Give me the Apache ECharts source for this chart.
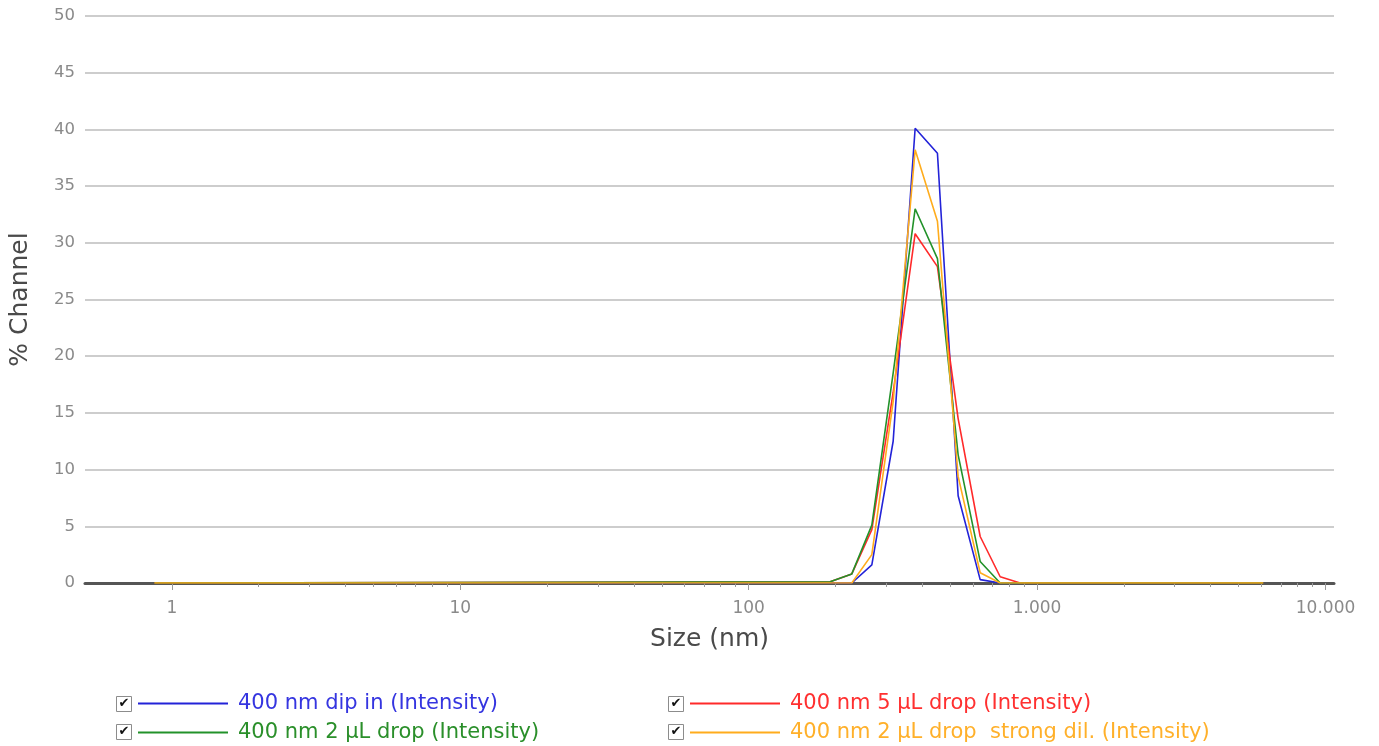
<!DOCTYPE html>
<html>
<head>
<meta charset="utf-8">
<script src="https://cdn.jsdelivr.net/npm/echarts@6/dist/echarts.min.js"></script>
<style>
html,body{margin:0;padding:0;background:#fff;}
#chart{width:1379px;height:746px;}
</style>
</head>
<body>
<div id="chart"></div>
<script>
// ---- data ----
const sizes = [0.87, 191.6, 227.8, 267.3, 316.9, 377.7, 451.3, 532.4, 634.8, 744.7, 873.6, 6085];
const dipIn      = [0, 0,   0,   1.6, 12.5, 40.1, 37.9, 7.7,  0.3, 0,    0, 0];
const drop5uL    = [0, 0.1, 0.8, 4.7, 16.8, 30.8, 27.9, 14.5, 4.1, 0.55, 0, 0];
const drop2uL    = [0, 0.1, 0.8, 5.1, 18.5, 33.0, 28.6, 11.3, 1.9, 0,    0, 0];
const drop2uLDil = [0, 0,   0,   2.5, 16.0, 38.2, 31.9, 9.4,  0.9, 0,    0, 0];
const seriesNames = [
  '400 nm dip in (Intensity)',
  '400 nm 5 µL drop (Intensity)',
  '400 nm 2 µL drop (Intensity)',
  '400 nm 2 µL drop  strong dil. (Intensity)'
];
const majorTicks = [1, 10, 100, 1000, 10000];
const minorTicks = [2,3,4,5,6,7,8,9, 20,30,40,50,60,70,80,90, 200,300,400,500,600,700,800,900, 2000,3000,4000,5000,6000,7000,8000,9000];
const xMin = 0.5, xMax = 10700;

const colors = ['#2323d8', '#ff2a2a', '#22922a', '#ffac1c'];
const textColors = ['#3535e0', '#ff3030', '#2a8f2a', '#ffb02a'];

const pair = vals => sizes.map((s, i) => [s, vals[i]]);
const allVals = [dipIn, drop5uL, drop2uL, drop2uLDil];

const fmt = v => {
  const n = Math.round(Math.pow(10, v));
  return String(n).replace(/\B(?=(\d{3})+(?!\d))/g, '.');
};

const FONT = 'DejaVu Sans';
const chart = echarts.init(document.getElementById('chart'));

function checkbox(x, y) {
  return {
    type: 'group', left: x, top: y,
    children: [
      {type: 'rect', shape: {x: 0, y: 0, width: 15, height: 15}, style: {fill: '#fff', stroke: '#8c8c8c', lineWidth: 1}},
      {type: 'text', x: 7.5, y: 7.5, style: {text: '✔', fill: '#111', font: 'bold 13px ' + FONT, align: 'center', verticalAlign: 'middle'}}
    ]
  };
}

function legendBlock(left, idxs) {
  return {
    left: left, top: 693, orient: 'vertical', padding: 0, itemGap: 8, itemWidth: 90, itemHeight: 2,
    height: 60,
    icon: 'rect', selectedMode: false,
    textStyle: {fontFamily: FONT, fontSize: 21, lineHeight: 20, padding: [0, 0, 0, 5]},
    data: idxs.map(i => ({name: seriesNames[i], textStyle: {color: textColors[i]}}))
  };
}

const option = {
  animation: false,
  backgroundColor: '#fff',
  grid: {left: 85, right: 45, top: 16, bottom: 163, containLabel: false},
  xAxis: [
    {type: 'log', min: xMin, max: xMax, show: false, logBase: 10},
    {
      type: 'value', position: 'bottom',
      min: Math.log10(xMin), max: Math.log10(xMax),
      name: 'Size (nm)', nameLocation: 'middle', nameGap: 44,
      nameTextStyle: {fontFamily: FONT, fontSize: 25, color: '#4a4a4a'},
      axisLine: {show: true, lineStyle: {color: '#555', width: 3}},
      axisTick: {show: true, length: 7, lineStyle: {color: '#9a9a9a', width: 1}, customValues: majorTicks.map(Math.log10)},
      axisLabel: {show: true, margin: 17, fontFamily: FONT, fontSize: 17, color: '#8a8a8a',
        customValues: majorTicks.map(Math.log10), formatter: fmt},
      splitLine: {show: false}
    },
    {
      type: 'value', position: 'bottom',
      min: Math.log10(xMin), max: Math.log10(xMax),
      axisLine: {show: false},
      axisTick: {show: true, length: 4, lineStyle: {color: '#9a9a9a', width: 1}, customValues: minorTicks.map(Math.log10)},
      axisLabel: {show: false},
      splitLine: {show: false}
    }
  ],
  yAxis: {
    type: 'value', min: 0, max: 50, interval: 5,
    name: '% Channel', nameLocation: 'middle', nameGap: 52, nameRotate: 90,
    nameTextStyle: {fontFamily: FONT, fontSize: 25, color: '#4a4a4a'},
    axisLine: {show: false}, axisTick: {show: false},
    axisLabel: {margin: 10, fontFamily: FONT, fontSize: 16.5, color: '#8a8a8a'},
    splitLine: {lineStyle: {color: '#bdbdbd', width: 1.5}}
  },
  legend: [legendBlock(138, [0, 2]), legendBlock(690, [1, 3])],
  graphic: [checkbox(116, 696), checkbox(116, 724), checkbox(668, 696), checkbox(668, 724)],
  series: allVals.map((vals, i) => ({
    name: seriesNames[i], type: 'line', xAxisIndex: 0, yAxisIndex: 0,
    data: pair(vals), showSymbol: false, symbol: 'none',
    lineStyle: {color: colors[i], width: 1.6},
    itemStyle: {color: colors[i]},
    emphasis: {disabled: true}
  }))
};
chart.setOption(option);
</script>
</body>
</html>
